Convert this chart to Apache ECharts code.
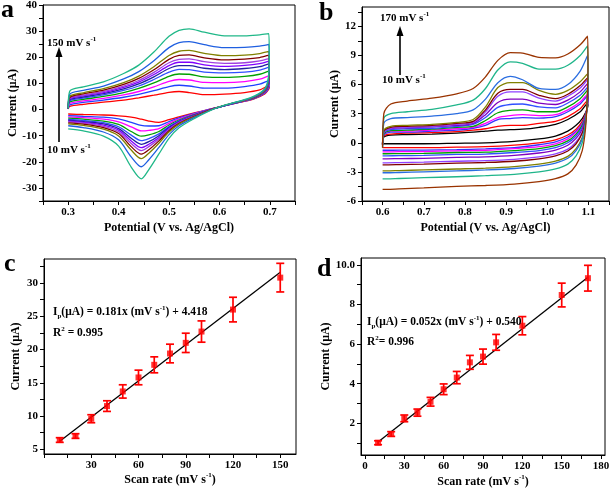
<!DOCTYPE html>
<html><head><meta charset="utf-8">
<script src="https://cdn.jsdelivr.net/npm/echarts@6/dist/echarts.min.js"></script>
<style>html,body{margin:0;padding:0;background:#fff}#c{width:614px;height:490px}</style>
</head><body><div id="c"></div>
<script>
// ---------- Panel a: CV curves (potential V, current uA) ----------
const aRates = [10, 20, 30, 40, 50, 60, 70, 80, 90, 100, 120, 150];
const aForwardX = [0.300, 0.303, 0.33, 0.37, 0.41, 0.44, 0.47, 0.50, 0.52, 0.54, 0.57, 0.61, 0.65, 0.68, 0.698];
const aReverseX = [0.699, 0.697, 0.69, 0.67, 0.645, 0.62, 0.59, 0.55, 0.52, 0.50, 0.48, 0.46, 0.445, 0.425, 0.40, 0.37, 0.33, 0.30];
const aForward = [
  [0.2, 1.2, 2.0, 2.8, 3.6, 4.5, 5.5, 6.6, 6.9, 6.5, 5.7, 5.9, 6.5, 7.5, 9.0],
  [0.2, 1.8, 2.7, 3.6, 4.7, 5.8, 7.2, 8.8, 9.3, 9.0, 8.2, 8.2, 8.8, 9.7, 11.1],
  [0.3, 2.3, 3.3, 4.3, 5.6, 6.9, 8.7, 10.8, 11.5, 11.3, 10.4, 10.3, 10.7, 11.6, 12.9],
  [0.3, 2.9, 3.9, 5.0, 6.5, 8.1, 10.2, 12.7, 13.6, 13.5, 12.5, 12.3, 12.7, 13.5, 14.7],
  [0.3, 3.3, 4.4, 5.6, 7.3, 9.0, 11.5, 14.3, 15.4, 15.3, 14.3, 14.0, 14.3, 15.1, 16.2],
  [0.3, 3.7, 4.8, 6.1, 7.9, 9.8, 12.5, 15.7, 16.8, 16.8, 15.8, 15.3, 15.7, 16.4, 17.5],
  [0.3, 4.0, 5.2, 6.5, 8.5, 10.5, 13.4, 16.8, 18.1, 18.1, 17.1, 16.5, 16.9, 17.6, 18.5],
  [0.4, 4.3, 5.5, 6.9, 9.0, 11.1, 14.2, 17.9, 19.2, 19.4, 18.3, 17.7, 17.9, 18.6, 19.5],
  [0.4, 4.6, 6.0, 7.4, 9.6, 11.9, 15.2, 19.2, 20.7, 20.9, 19.8, 19.0, 19.3, 19.9, 20.8],
  [0.4, 5.0, 6.4, 8.0, 10.3, 12.8, 16.4, 20.7, 22.3, 22.6, 21.5, 20.6, 20.8, 21.4, 22.2],
  [0.4, 5.8, 7.3, 9.0, 11.7, 14.5, 18.7, 23.7, 25.6, 26.0, 24.8, 23.7, 23.8, 24.3, 24.9],
  [0.5, 7.0, 8.7, 10.6, 13.8, 17.0, 22.0, 28.0, 30.3, 30.9, 29.6, 28.2, 28.2, 28.6, 29.0]
];
const aReverse = [
  [8.5, 7.5, 6.0, 4.2, 2.9, 1.9, 0.5, -1.3, -2.8, -3.9, -4.9, -4.4, -3.7, -2.9, -2.4, -2.1, -1.9, -1.7],
  [9.7, 8.0, 6.2, 4.3, 3.0, 1.9, 0.5, -1.5, -3.2, -4.6, -6.2, -6.3, -6.1, -4.9, -3.6, -2.9, -2.6, -2.3],
  [10.7, 8.4, 6.4, 4.4, 3.0, 2.0, 0.5, -1.7, -3.6, -5.3, -7.3, -8.0, -8.2, -6.6, -4.7, -3.7, -3.1, -2.8],
  [11.8, 8.8, 6.6, 4.5, 3.1, 2.0, 0.4, -1.9, -4.0, -5.9, -8.4, -9.7, -10.2, -8.4, -5.7, -4.4, -3.7, -3.3],
  [12.7, 9.1, 6.7, 4.6, 3.1, 2.0, 0.4, -2.1, -4.3, -6.5, -9.3, -11.1, -11.9, -9.8, -6.6, -5.0, -4.2, -3.8],
  [13.4, 9.4, 6.9, 4.6, 3.2, 2.0, 0.4, -2.2, -4.6, -6.9, -10.0, -12.3, -13.3, -11.0, -7.3, -5.5, -4.6, -4.1],
  [14.0, 9.6, 7.0, 4.7, 3.2, 2.0, 0.4, -2.4, -4.8, -7.3, -10.7, -13.3, -14.6, -12.0, -7.9, -6.0, -4.9, -4.4],
  [14.6, 9.9, 7.1, 4.7, 3.2, 2.1, 0.4, -2.5, -5.0, -7.6, -11.3, -14.2, -15.7, -13.0, -8.5, -6.4, -5.2, -4.7],
  [15.3, 10.2, 7.2, 4.8, 3.3, 2.1, 0.4, -2.6, -5.3, -8.1, -12.0, -15.4, -17.1, -14.2, -9.2, -6.9, -5.6, -5.1],
  [16.1, 10.5, 7.3, 4.9, 3.3, 2.1, 0.4, -2.8, -5.6, -8.6, -12.9, -16.7, -18.8, -15.5, -10.1, -7.5, -6.1, -5.5],
  [17.7, 11.1, 7.6, 5.0, 3.4, 2.1, 0.3, -3.1, -6.2, -9.6, -14.5, -19.2, -21.9, -18.1, -11.6, -8.6, -6.9, -6.2],
  [20.0, 12.0, 8.0, 5.2, 3.5, 2.2, 0.3, -3.5, -7.0, -11.0, -17.0, -23.0, -26.5, -22.0, -14.0, -10.2, -8.2, -7.4]
];

// ---------- Panel b: CV curves ----------
const bRates = [10, 20, 30, 40, 50, 60, 70, 80, 90, 100, 120, 150, 170];
const bForwardX = [0.600, 0.603, 0.62, 0.66, 0.72, 0.78, 0.82, 0.85, 0.88, 0.91, 0.94, 0.98, 1.02, 1.05, 1.08, 1.098];
const bReverseX = [1.099, 1.097, 1.093, 1.085, 1.07, 1.05, 1.02, 0.98, 0.92, 0.85, 0.78, 0.70, 0.64, 0.61, 0.60];
const bForward = [
  [-0.1, 0.6, 0.8, 0.85, 0.9, 1.0, 1.1, 1.2, 1.3, 1.35, 1.4, 1.6, 1.9, 2.4, 3.2, 4.0],
  [-0.1, 0.7, 0.9, 1.0, 1.05, 1.15, 1.3, 1.45, 1.7, 1.8, 1.8, 2.0, 2.2, 2.7, 3.5, 4.3],
  [-0.1, 0.8, 1.1, 1.1, 1.2, 1.3, 1.5, 1.8, 2.4, 2.5, 2.6, 2.55, 2.7, 3.2, 4.0, 4.8],
  [-0.2, 0.9, 1.2, 1.2, 1.3, 1.45, 1.6, 2.0, 2.6, 2.8, 2.9, 2.8, 2.9, 3.4, 4.2, 5.0],
  [-0.2, 0.9, 1.25, 1.3, 1.4, 1.6, 1.7, 2.3, 3.1, 3.35, 3.4, 3.2, 3.2, 3.7, 4.55, 5.4],
  [-0.2, 1.0, 1.35, 1.45, 1.5, 1.7, 1.9, 2.6, 3.65, 3.95, 4.0, 3.7, 3.6, 4.1, 4.9, 5.7],
  [-0.2, 1.1, 1.45, 1.55, 1.65, 1.8, 2.0, 2.9, 4.15, 4.5, 4.5, 4.1, 3.95, 4.4, 5.25, 6.1],
  [-0.2, 1.1, 1.5, 1.6, 1.7, 1.9, 2.1, 3.2, 4.8, 5.25, 5.25, 4.6, 4.3, 4.8, 5.65, 6.5],
  [-0.2, 1.2, 1.6, 1.7, 1.8, 2.0, 2.2, 3.4, 5.1, 5.5, 5.5, 4.9, 4.55, 5.0, 5.9, 6.7],
  [-0.2, 1.3, 1.7, 1.8, 1.9, 2.1, 2.4, 3.7, 5.7, 6.2, 6.2, 5.4, 5.0, 5.4, 6.3, 7.1],
  [-0.4, 2.0, 2.5, 2.6, 2.75, 3.0, 3.4, 4.5, 6.2, 6.85, 6.5, 5.6, 5.5, 6.0, 7.4, 9.0],
  [-0.5, 2.5, 3.0, 3.2, 3.45, 3.9, 4.4, 5.6, 7.5, 8.35, 8.2, 7.6, 7.6, 8.0, 9.0, 10.0],
  [-0.5, 3.0, 4.0, 4.3, 4.6, 5.05, 5.6, 6.8, 8.5, 9.3, 9.25, 8.8, 8.75, 9.15, 10.1, 11.0]
];
const bReverse = [
  [3.9, 3.5, 3.1, 2.5, 1.8, 1.2, 0.7, 0.4, 0.15, 0.0, -0.05, -0.1, -0.1, -0.1, -0.1],
  [4.3, 3.6, 3.0, 2.2, 1.4, 0.8, 0.3, 0.0, -0.24, -0.4, -0.45, -0.5, -0.5, -0.5, -0.5],
  [4.5, 3.6, 2.9, 2.0, 1.2, 0.6, 0.1, -0.2, -0.5, -0.63, -0.7, -0.75, -0.76, -0.77, -0.77],
  [4.6, 3.7, 2.8, 1.9, 1.1, 0.4, -0.1, -0.4, -0.6, -0.77, -0.83, -0.9, -0.92, -0.93, -0.93],
  [4.8, 3.7, 2.75, 1.8, 0.9, 0.2, -0.3, -0.6, -0.8, -0.97, -1.0, -1.1, -1.12, -1.13, -1.13],
  [5.0, 3.8, 2.7, 1.6, 0.7, 0.0, -0.5, -0.8, -1.0, -1.16, -1.2, -1.3, -1.33, -1.34, -1.34],
  [5.25, 3.8, 2.6, 1.4, 0.45, -0.25, -0.75, -1.05, -1.3, -1.45, -1.5, -1.6, -1.63, -1.65, -1.65],
  [5.6, 3.9, 2.4, 1.1, 0.1, -0.65, -1.15, -1.45, -1.7, -1.84, -1.9, -2.0, -2.04, -2.06, -2.06],
  [5.8, 4.0, 2.35, 1.0, -0.1, -0.85, -1.35, -1.65, -1.9, -2.03, -2.1, -2.2, -2.25, -2.27, -2.27],
  [6.3, 4.1, 2.15, 0.55, -0.6, -1.4, -1.9, -2.2, -2.45, -2.61, -2.7, -2.8, -2.86, -2.89, -2.89],
  [6.5, 4.1, 2.1, 0.4, -0.8, -1.6, -2.1, -2.4, -2.65, -2.8, -2.9, -3.0, -3.06, -3.09, -3.09],
  [7.1, 4.3, 1.9, 0.0, -1.35, -2.2, -2.7, -3.0, -3.25, -3.39, -3.5, -3.6, -3.68, -3.72, -3.72],
  [8.0, 4.5, 1.5, -0.8, -2.3, -3.2, -3.7, -4.0, -4.25, -4.4, -4.5, -4.65, -4.75, -4.8, -4.8]
];

// ---------- Panel c: peak current vs scan rate ----------
const cRate = [10, 20, 30, 40, 50, 60, 70, 80, 90, 100, 120, 150];
const cCurrent = [6.4, 7.0, 9.6, 11.5, 13.7, 15.8, 17.7, 19.4, 21.0, 22.7, 26.0, 30.8];
const cError = [0.35, 0.35, 0.6, 0.8, 1.0, 1.1, 1.2, 1.4, 1.45, 1.6, 1.85, 2.15];
const cFitX = [10, 150];
const cFitY = [6.2, 31.6];

// ---------- Panel d ----------
const dRate = [10, 20, 30, 40, 50, 60, 70, 80, 90, 100, 120, 150, 170];
const dCurrent = [1.02, 1.46, 2.25, 2.54, 3.09, 3.72, 4.31, 5.08, 5.37, 6.09, 6.93, 8.48, 9.33];
const dError = [0.1, 0.12, 0.17, 0.18, 0.22, 0.27, 0.31, 0.35, 0.38, 0.4, 0.46, 0.6, 0.65];
const dFitX = [10, 170];
const dFitY = [1.06, 9.38];

// ---------- Tick values ----------
const aXTicks = [0.25, 0.3, 0.35, 0.4, 0.45, 0.5, 0.55, 0.6, 0.65, 0.7, 0.75];
const aXLabels = [0.3, 0.4, 0.5, 0.6, 0.7];
const aYTicks = [-35, -30, -25, -20, -15, -10, -5, 0, 5, 10, 15, 20, 25, 30, 35, 40];
const aYLabels = [-30, -20, -10, 0, 10, 20, 30, 40];
const bXTicks = [0.55, 0.6, 0.65, 0.7, 0.75, 0.8, 0.85, 0.9, 0.95, 1.0, 1.05, 1.1, 1.15];
const bXLabels = [0.6, 0.7, 0.8, 0.9, 1.0, 1.1];
const bYTicks = [-6, -4.5, -3, -1.5, 0, 1.5, 3, 4.5, 6, 7.5, 9, 10.5, 12, 13.5];
const bYLabels = [-6, -3, 0, 3, 6, 9, 12];
const cXTicks = [0, 15, 30, 45, 60, 75, 90, 105, 120, 135, 150];
const cXLabels = [30, 60, 90, 120, 150];
const cYTicks = [5, 7.5, 10, 12.5, 15, 17.5, 20, 22.5, 25, 27.5, 30, 32.5];
const cYLabels = [5, 10, 15, 20, 25, 30];
const dXTicks = [0, 15, 30, 45, 60, 75, 90, 105, 120, 135, 150, 165, 180];
const dXLabels = [0, 30, 60, 90, 120, 150, 180];
const dYTicks = [1, 2, 3, 4, 5, 6, 7, 8, 9, 10];
const dYLabels = [2, 4, 6, 8, 10];

// ---------- Styles ----------
const aColors = ['#ff0000', '#2040ff', '#ff00ff', '#00a000', '#3050ff', '#2020a0', '#8000ff', '#a040e0', '#800000', '#808000', '#1f5fe0', '#20b888'];
const bColors = ['#000000', '#ff0000', '#3333ff', '#ff00ff', '#00a000', '#3050ff', '#8000c0', '#9040ff', '#800000', '#808000', '#2a6de0', '#1fb58a', '#993300'];
const FONT = '"Liberation Serif","Times New Roman",serif';
function richSet(size) {
  return {
    n: {fontFamily: FONT, fontWeight: 'bold', fontSize: size, color: '#000', lineHeight: size + 3},
    sup: {fontFamily: FONT, fontWeight: 'bold', fontSize: Math.round(size * 0.62), color: '#000', lineHeight: Math.round(size * 0.62), verticalAlign: 'top'},
    sub: {fontFamily: FONT, fontWeight: 'bold', fontSize: Math.round(size * 0.62), color: '#000', lineHeight: Math.round(size * 0.62), verticalAlign: 'bottom'}
  };
}

const grids = [
  {left: 43, top: 5, width: 252, height: 196},
  {left: 362, top: 7, width: 247, height: 194},
  {left: 44, top: 259, width: 252, height: 195},
  {left: 361, top: 258, width: 244, height: 197}
].map(g => Object.assign(g, {show: true, borderColor: '#000', borderWidth: 1, backgroundColor: 'transparent', outerBoundsMode: 'none', containLabel: false}));

function mkAxis(gi, min, max, ticks, labels, fmt, name, gap) {
  return {
    type: 'value', gridIndex: gi, min: min, max: max,
    axisLine: {show: true, onZero: false, lineStyle: {color: '#000', width: 1}},
    axisTick: {show: true, inside: false, length: 4, customValues: ticks, lineStyle: {color: '#000', width: 1}},
    axisLabel: {show: true, customValues: labels, formatter: fmt, margin: 6, color: '#000', fontFamily: FONT, fontWeight: 'bold', fontSize: 11},
    splitLine: {show: false},
    name: name, nameLocation: 'middle', nameGap: gap,
    nameTextStyle: {fontFamily: FONT, fontWeight: 'bold', fontSize: 12, color: '#000', rich: richSet(12)}
  };
}
const f1 = v => Number(v).toFixed(1);
const f0 = v => String(v);
const xAxis = [
  mkAxis(0, 0.25, 0.75, aXTicks, aXLabels, f1, '{n|Potential (V vs. Ag/AgCl)}', 19),
  mkAxis(1, 0.55, 1.15, bXTicks, bXLabels, f1, '{n|Potential (V vs. Ag/AgCl)}', 19),
  mkAxis(2, 0, 160, cXTicks, cXLabels, f0, '{n|Scan rate (mV s}{sup|-1}{n|)}', 18),
  mkAxis(3, -3, 183, dXTicks, dXLabels, f0, '{n|Scan rate (mV s}{sup|-1}{n|)}', 19)
];
const yAxis = [
  mkAxis(0, -35, 40, aYTicks, aYLabels, f0, '{n|Current (μA)}', 20),
  mkAxis(1, -6, 14, bYTicks, bYLabels, f0, '{n|Current (μA)}', 16),
  mkAxis(2, 4.3, 33.6, cYTicks, cYLabels, f0, '{n|Current (μA)}', 21),
  mkAxis(3, 0.4, 10.35, dYTicks, dYLabels, v => (v === 10 ? '10.0' : String(v)), '{n|Current (μA)}', 17)
];

const series = [];
aRates.forEach((r, k) => {
  const data = aForwardX.map((x, i) => [x, aForward[k][i]]).concat(aReverseX.map((x, i) => [x, aReverse[k][i]]));
  series.push({type: 'line', name: 'a' + r, xAxisIndex: 0, yAxisIndex: 0, data: data, showSymbol: false, symbol: 'none', smooth: 0.3,
    lineStyle: {color: aColors[k], width: 1.3}, z: 2});
});
bRates.forEach((r, k) => {
  const data = bForwardX.map((x, i) => [x, bForward[k][i]]).concat(bReverseX.map((x, i) => [x, bReverse[k][i]]));
  series.push({type: 'line', name: 'b' + r, xAxisIndex: 1, yAxisIndex: 1, data: data, showSymbol: false, symbol: 'none', smooth: 0.3,
    lineStyle: {color: bColors[k], width: 1.3}, z: 2});
});

function errSeries(ai, xs, ys, es) {
  return {
    type: 'custom', xAxisIndex: ai, yAxisIndex: ai, z: 3,
    data: xs.map((x, i) => [x, ys[i], es[i]]),
    encode: {x: 0, y: 1},
    renderItem: function (params, api) {
      const x = api.value(0), y = api.value(1), e = api.value(2);
      const lo = api.coord([x, y - e]), hi = api.coord([x, y + e]);
      const w = 4;
      const st = {stroke: '#ff0000', lineWidth: 1.7};
      return {type: 'group', children: [
        {type: 'line', shape: {x1: lo[0], y1: lo[1], x2: hi[0], y2: hi[1]}, style: st},
        {type: 'line', shape: {x1: lo[0] - w, y1: lo[1], x2: lo[0] + w, y2: lo[1]}, style: st},
        {type: 'line', shape: {x1: hi[0] - w, y1: hi[1], x2: hi[0] + w, y2: hi[1]}, style: st}
      ]};
    }
  };
}
series.push({type: 'line', xAxisIndex: 2, yAxisIndex: 2, data: cFitX.map((x, i) => [x, cFitY[i]]), showSymbol: false, symbol: 'none', lineStyle: {color: '#000', width: 1.3}, z: 2});
series.push(errSeries(2, cRate, cCurrent, cError));
series.push({type: 'scatter', xAxisIndex: 2, yAxisIndex: 2, data: cRate.map((x, i) => [x, cCurrent[i]]), symbol: 'rect', symbolSize: 6, itemStyle: {color: '#ff0000'}, z: 4});
series.push({type: 'line', xAxisIndex: 3, yAxisIndex: 3, data: dFitX.map((x, i) => [x, dFitY[i]]), showSymbol: false, symbol: 'none', lineStyle: {color: '#000', width: 1.3}, z: 2});
series.push(errSeries(3, dRate, dCurrent, dError));
series.push({type: 'scatter', xAxisIndex: 3, yAxisIndex: 3, data: dRate.map((x, i) => [x, dCurrent[i]]), symbol: 'rect', symbolSize: 6, itemStyle: {color: '#ff0000'}, z: 4});

function txt(x, y, text, size) {
  return {type: 'text', x: x, y: y, z: 10, style: {text: text, rich: richSet(size), align: 'left', verticalAlign: 'middle'}};
}
function letter(x, y, t) {
  return {type: 'text', x: x, y: y, z: 10, style: {text: t, fontFamily: FONT, fontWeight: 'bold', fontSize: 26, fill: '#000', align: 'left', verticalAlign: 'middle'}};
}
function arrow(x, y1, y2) {
  return [
    {type: 'line', z: 10, shape: {x1: x, y1: y1, x2: x, y2: y2 + 8}, style: {stroke: '#000', lineWidth: 1.6}},
    {type: 'polygon', z: 10, shape: {points: [[x, y2], [x - 3.5, y2 + 10], [x + 3.5, y2 + 10]]}, style: {fill: '#000'}}
  ];
}
const graphic = [
  letter(1, 10, 'a'), letter(319, 13, 'b'), letter(4, 264, 'c'), letter(317, 269, 'd'),
  txt(47, 43, '{n|150 mV s}{sup|-1}', 11), txt(47, 150, '{n|10 mV s}{sup|-1}', 11),
  txt(380, 18, '{n|170 mV s}{sup|-1}', 11), txt(382, 80, '{n|10 mV s}{sup|-1}', 11),
  txt(53, 312, '{n|I}{sub|p}{n|(μA) = 0.181x (mV s}{sup|-1}{n|) + 4.418}', 11.5),
  txt(53, 333, '{n|R}{sup|2}{n| = 0.995}', 11.5),
  txt(367, 322, '{n|I}{sub|p}{n|(μA) = 0.052x (mV s}{sup|-1}{n|) + 0.540}', 11.5),
  txt(367, 342, '{n|R}{sup|2}{n|= 0.996}', 11.5)
].concat(arrow(59, 142, 47), arrow(400, 75, 26));

const chart = echarts.init(document.getElementById('c'), null, {renderer: 'canvas'});
chart.setOption({animation: false, backgroundColor: '#fff', grid: grids, xAxis: xAxis, yAxis: yAxis, series: series, graphic: graphic});
</script></body></html>
